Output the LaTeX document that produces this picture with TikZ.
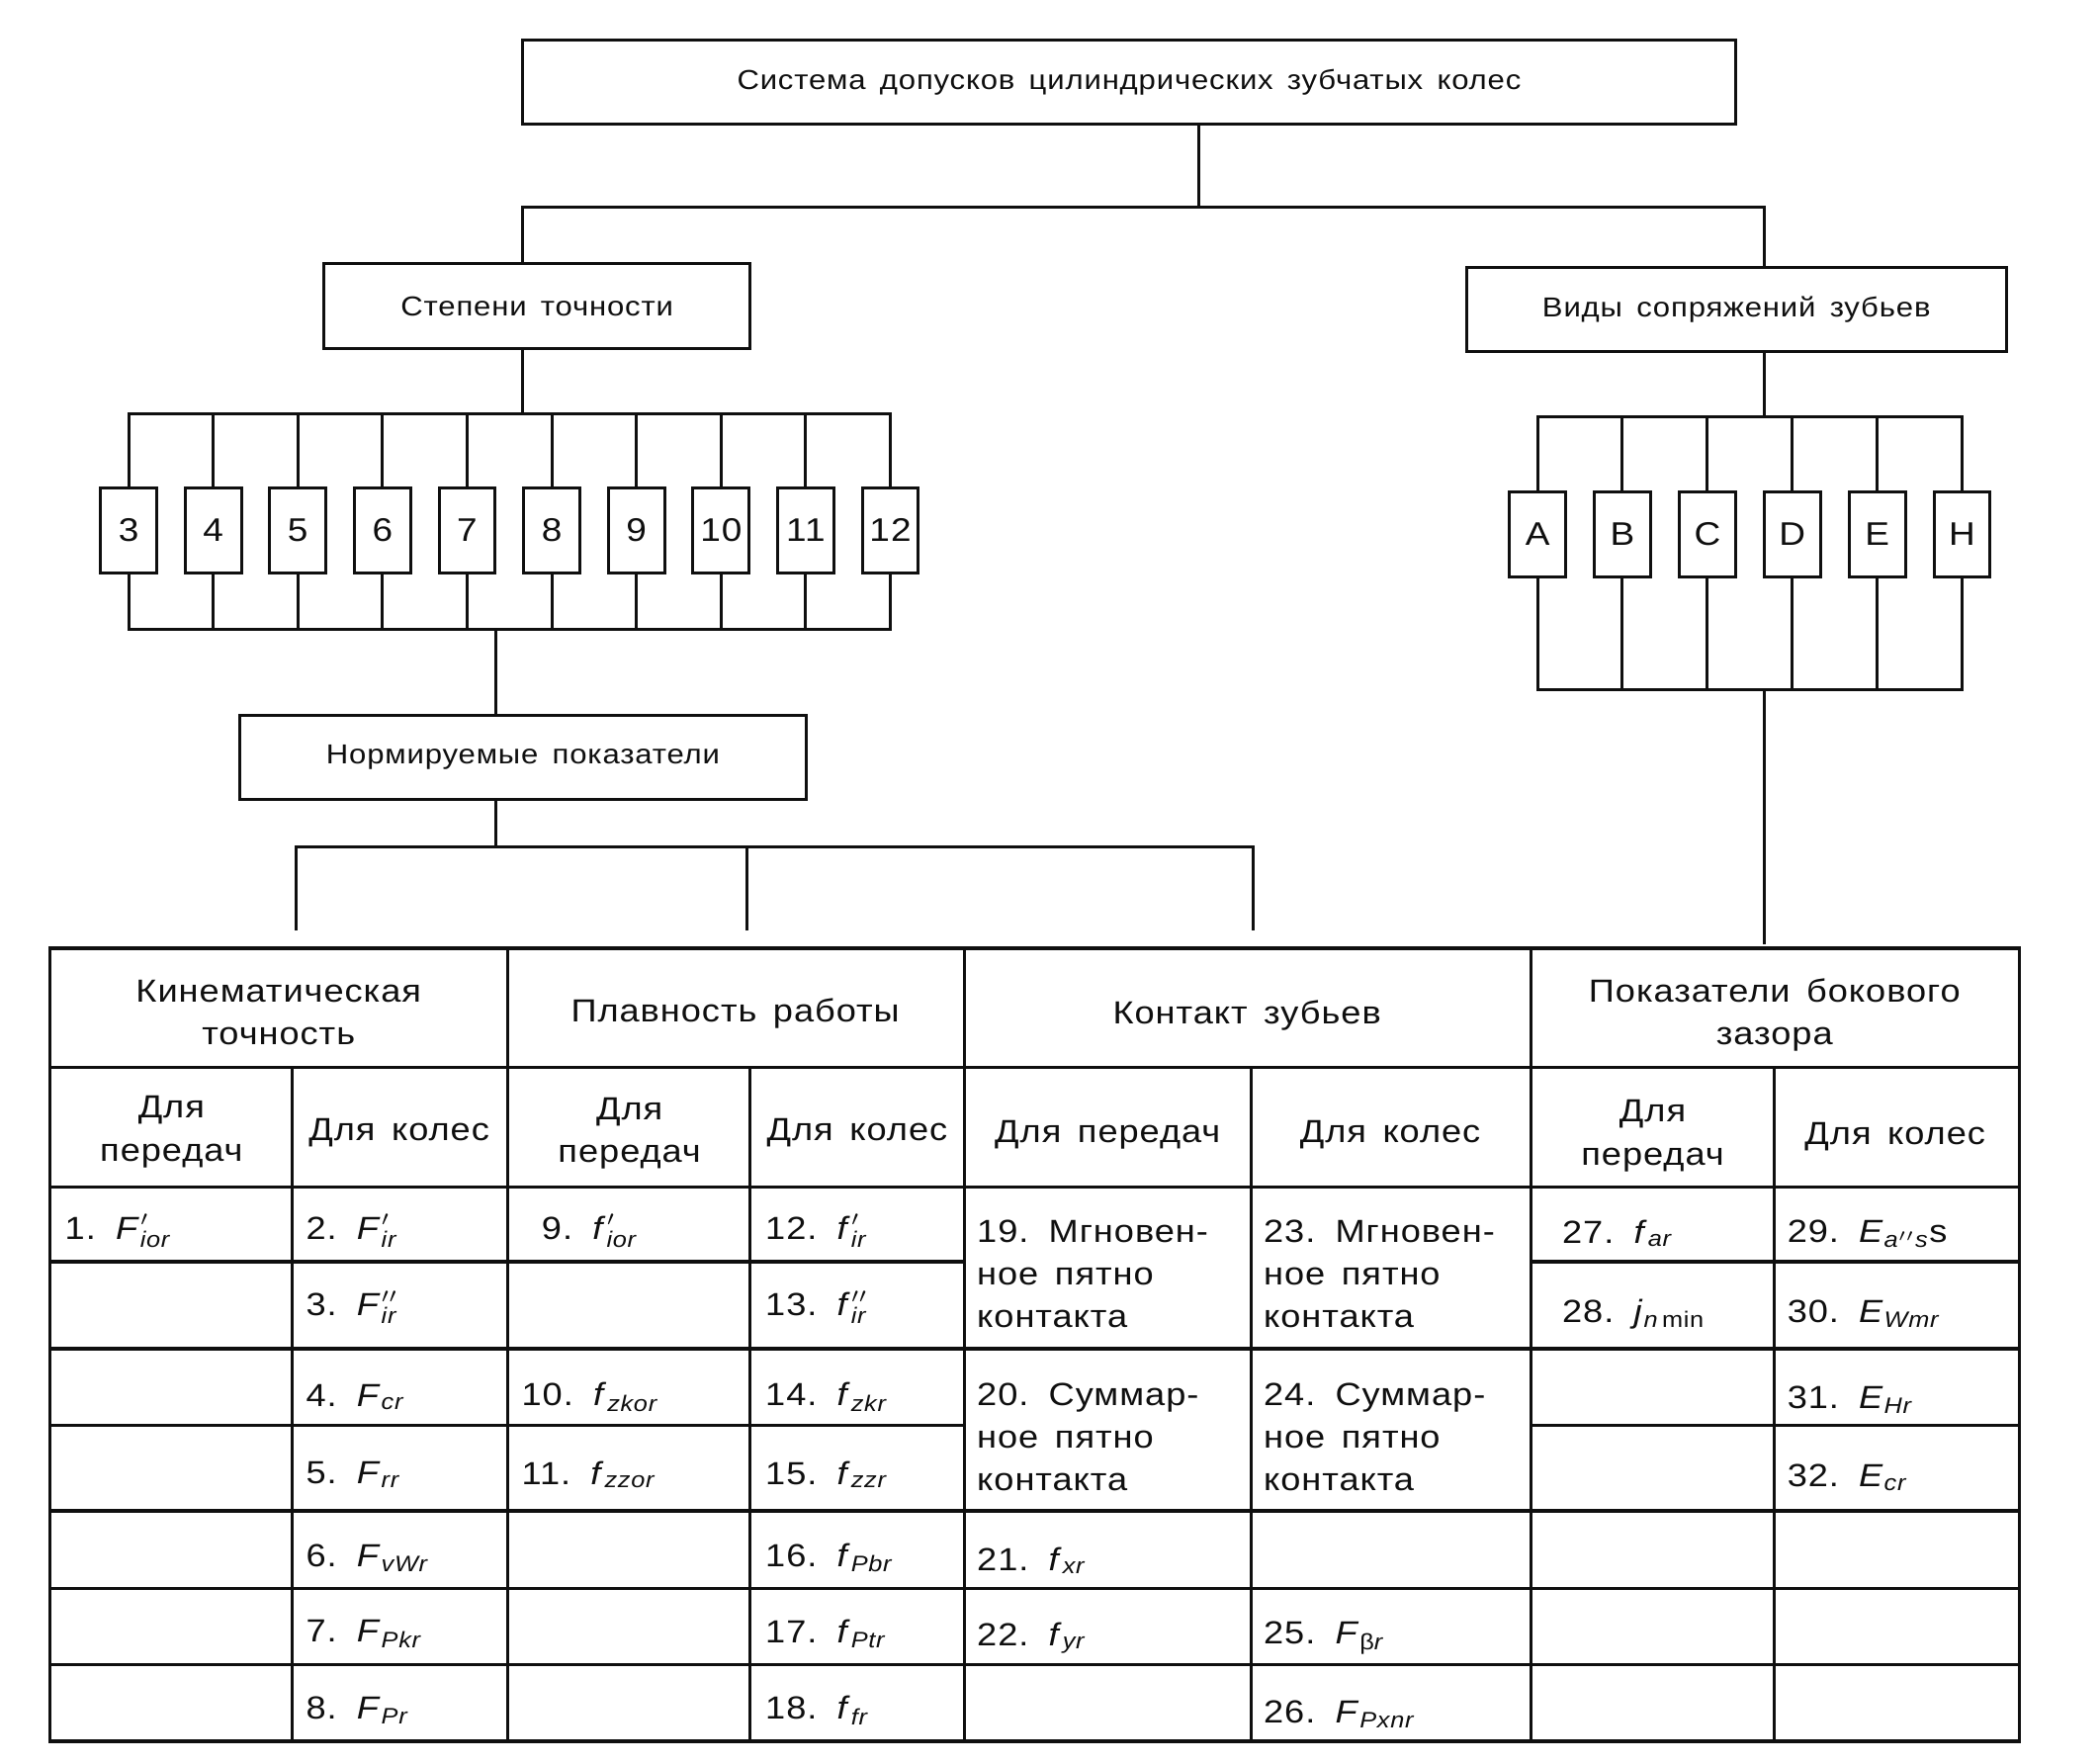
\documentclass[tikz,border=0pt]{standalone}
\usepackage{amsmath}
\usepackage{fontspec}
\setmainfont[FakeStretch=1.12,LetterSpace=3,WordSpace=1.5]{Liberation Sans}
\usepackage{tikz}
\usetikzlibrary{
  positioning,
  calc
}
\usepackage{xcolor}
\definecolor{inkclr}{RGB}{15,15,15}
\newcommand{\pxu}{0.01355cm}
% обозначения показателей
\newcommand{\tl}[2]{\textit{#1}$_{\text{\itshape #2}}$}
\newcommand{\tlp}[3]{\textit{#1}$^{#2}_{\text{\itshape #3}}$}
\tikzset{
  % Линии схемы
  link/.style     = {line width=0.85pt, draw=inkclr},
  grid/.style     = {line width=0.9pt, draw=inkclr},
  % Блоки
  box/.style      = {draw=inkclr, line width=0.85pt, minimum height=63*\pxu,
                     inner sep=0pt, font=\fontsize{7.9}{10}\selectfont},
  sbox/.style     = {draw=inkclr, line width=0.85pt, minimum width=42*\pxu,
                     minimum height=64*\pxu, inner sep=0pt,
                     font=\fontsize{9.4}{10}\selectfont},
  % Таблица
  head/.style     = {align=center, inner sep=0pt, font=\fontsize{9.2}{12.3}\selectfont},
  cell/.style     = {anchor=west, align=left, inner sep=0pt,
                     font=\fontsize{9.2}{12.3}\selectfont},
}

\begin{document}
\begin{tikzpicture}[x=0.01355cm, y=-0.01355cm, inkclr]
  \useasboundingbox (0,0) rectangle (1568,1317);
  % Блоки
  \node[box, minimum width=906*\pxu] (sys) at (843,61.5) {Система допусков цилиндрических зубчатых колес};
  \node[box, minimum width=318*\pxu] (deg) at (401,228.5) {Степени точности};
  \node[box, minimum width=403*\pxu] (vid) at (1296.5,231) {Виды сопряжений зубьев};
  \node[box, minimum width=423*\pxu] (norm) at (390.5,565.5) {Нормируемые показатели};
  \foreach \n [count=\i from 0] in {3,...,12}
    \node[sbox] (d\n) at (96+63.2*\i,396) {\n};
  \foreach \n [count=\i from 0] in {A,B,C,D,E,H}
    \node[sbox] (m\n) at (1148+63.4*\i,399) {\n};
  % Точки ветвления
  \coordinate (jtop) at (895,155);
  \coordinate (bL) at (390,155);
  \coordinate (bR) at (1317,155);
  \coordinate (dTop) at (390,309);
  \coordinate (dBot) at (370,470);
  \coordinate (mTop) at (1317,311);
  \coordinate (mBot) at (1317,515);
  \coordinate (nBus) at (370,632);
  \coordinate (n1) at (221,695);
  \coordinate (n2) at (558,695);
  \coordinate (n3) at (936,695);
  \coordinate (tabR) at (1317,705);
  % Связи
  \draw[link] (sys.south -| jtop) -- (jtop);
  \draw[link] (deg.north -| bL) -- (bL) -- (bR) -- (vid.north -| bR);
  \draw[link] (deg.south -| dTop) -- (dTop);
  \draw[link] (d3.north) -- (d3.north |- dTop) -- (d12.north |- dTop) -- (d12.north);
  \draw[link] (d3.south) -- (d3.south |- dBot) -- (d12.south |- dBot) -- (d12.south);
  \foreach \n in {4,...,11} {
    \draw[link] (d\n.north) -- (d\n.north |- dTop);
    \draw[link] (d\n.south) -- (d\n.south |- dBot);
  }
  \draw[link] (dBot) -- (norm.north -| dBot);
  \draw[link] (norm.south -| nBus) -- (nBus);
  \draw[link] (n1) -- (n1 |- nBus) -- (n3 |- nBus) -- (n3);
  \draw[link] (n2) -- (n2 |- nBus);
  \draw[link] (vid.south -| mTop) -- (mTop);
  \draw[link] (mA.north) -- (mA.north |- mTop) -- (mH.north |- mTop) -- (mH.north);
  \draw[link] (mA.south) -- (mA.south |- mBot) -- (mH.south |- mBot) -- (mH.south);
  \foreach \n in {B,C,D,E} {
    \draw[link] (m\n.north) -- (m\n.north |- mTop);
    \draw[link] (m\n.south) -- (m\n.south |- mBot);
  }
  \draw[link] (mBot) -- (tabR);
  % Таблица: контур и шапка
  \draw[grid] (37,708) rectangle (1508,1300);
  \draw[grid] (37,797) -- (1508,797);
  \draw[grid] (37,886) -- (1508,886);
  \foreach \x in {379,720,1143} \draw[grid] (\x,708) -- (\x,1300);
  \foreach \x in {218,560,934,1325} \draw[grid] (\x,797) -- (\x,1300);
  % Таблица: строки
  \foreach \y in {1007,1128,1186,1243} \draw[grid] (37,\y) -- (1508,\y);
  \foreach \y in {942,1064} {
    \draw[grid] (37,\y) -- (720,\y);
    \draw[grid] (1143,\y) -- (1508,\y);
  }
  % Заголовки
  \node[head] (hKin) at (208,756) {Кинематическая\\точность};
  \node[head] (hPl)  at (549,757) {Плавность работы};
  \node[head] (hKon) at (931,758) {Контакт зубьев};
  \node[head] (hPok) at (1325,758) {Показатели бокового\\зазора};
  \node[head] (s1) at (128,845) {Для\\передач};
  \node[head] (s2) at (298,846) {Для колес};
  \node[head] (s3) at (470,846) {Для\\передач};
  \node[head] (s4) at (640,846) {Для колес};
  \node[head] (s5) at (827,847) {Для передач};
  \node[head] (s6) at (1038,847) {Для колес};
  \node[head] (s7) at (1234,848) {Для\\передач};
  \node[head] (s8) at (1415,849) {Для колес};
  % Кинематическая точность
  \node[cell] (c1) at (48,919) {1. \tlp{F}{\prime}{ior}};
  \node[cell] (c2) at (228,919) {2. \tlp{F}{\prime}{ir}};
  \node[cell] (c3) at (228,976) {3. \tlp{F}{\prime\prime}{ir}};
  \node[cell] (c4) at (228,1043) {4. \tl{F}{cr}};
  \node[cell] (c5) at (228,1101) {5. \tl{F}{rr}};
  \node[cell] (c6) at (228,1163) {6. \tl{F}{vWr}};
  \node[cell] (c7) at (228,1220) {7. \tl{F}{Pkr}};
  \node[cell] (c8) at (228,1277) {8. \tl{F}{Pr}};
  % Плавность работы
  \node[cell] (c9)  at (404,919) {9. \tlp{f}{\prime}{ior}};
  \node[cell] (c10) at (389,1043) {10. \tl{f}{zkor}};
  \node[cell] (c11) at (389,1101) {11. \tl{f}{zzor}};
  \node[cell] (c12) at (571,919) {12. \tlp{f}{\prime}{ir}};
  \node[cell] (c13) at (571,976) {13. \tlp{f}{\prime\prime}{ir}};
  \node[cell] (c14) at (571,1043) {14. \tl{f}{zkr}};
  \node[cell] (c15) at (571,1101) {15. \tl{f}{zzr}};
  \node[cell] (c16) at (571,1163) {16. \tl{f}{Pbr}};
  \node[cell] (c17) at (571,1220) {17. \tl{f}{Ptr}};
  \node[cell] (c18) at (571,1277) {18. \tl{f}{fr}};
  % Контакт зубьев
  \node[cell] (c19) at (729,951) {19. Мгновен-\\ное пятно\\контакта};
  \node[cell] (c20) at (729,1073) {20. Суммар-\\ное пятно\\контакта};
  \node[cell] (c21) at (729,1165) {21. \tl{f}{xr}};
  \node[cell] (c22) at (729,1223) {22. \tl{f}{yr}};
  \node[cell] (c23) at (943,951) {23. Мгновен-\\ное пятно\\контакта};
  \node[cell] (c24) at (943,1073) {24. Суммар-\\ное пятно\\контакта};
  \node[cell] (c25) at (943,1223) {25. \textit{F}$_{\text{β\itshape r}}$};
  \node[cell] (c26) at (943,1280) {26. \tl{F}{Pxnr}};
  % Показатели бокового зазора
  \node[cell] (c27) at (1166,921) {27. \tl{f}{ar}};
  \node[cell] (c28) at (1166,981) {28. \textit{j}$_{\text{\itshape n}\,\text{min}}$};
  \node[cell] (c29) at (1334,921) {29. \textit{E}$_{\text{\itshape a}''\text{\itshape s}}$s};
  \node[cell] (c30) at (1334,981) {30. \tl{E}{Wmr}};
  \node[cell] (c31) at (1334,1045) {31. \tl{E}{Hr}};
  \node[cell] (c32) at (1334,1103) {32. \tl{E}{cr}};
\end{tikzpicture}
\end{document}
